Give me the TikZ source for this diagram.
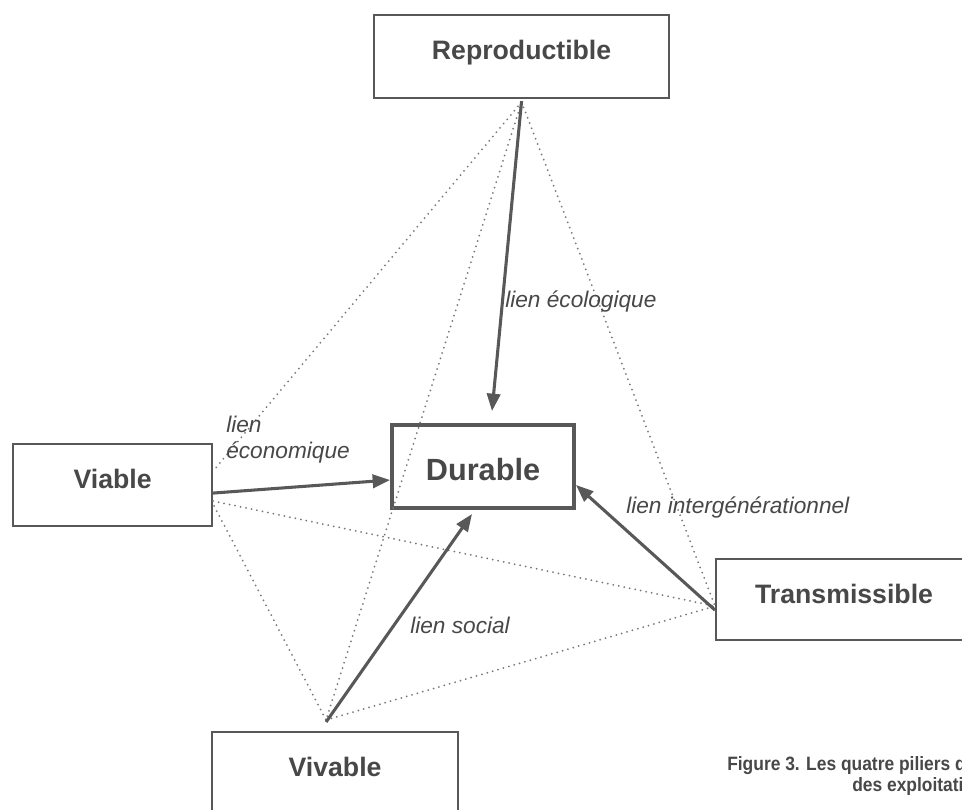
\documentclass[tikz,border=0pt]{standalone}
\usepackage{fontspec}
\setmainfont{Liberation Sans}
\newfontfamily\capfont[FakeStretch=0.9]{Liberation Sans}
\usetikzlibrary{arrows.meta,calc}
\definecolor{ink}{RGB}{72,72,72}
\definecolor{frame}{RGB}{88,88,88}
\definecolor{dotcol}{RGB}{120,120,120}
\begin{document}
\begin{tikzpicture}[x=0.75pt,y=-0.75pt,
  pillar/.style={draw=frame, line width=1.6pt, inner xsep=0pt, inner ysep=0pt,
    text=ink, font=\bfseries\fontsize{20}{24}\selectfont, anchor=north west},
  link/.style={draw=frame, line width=2.3pt, -{Triangle[length=13pt,width=10pt]}},
  dotlink/.style={draw=dotcol, line width=1.5pt, line cap=round, dash pattern=on 0pt off 4.2pt},
  lbl/.style={text=ink, font=\itshape\fontsize{17}{20}\selectfont, anchor=west, inner sep=0pt},
  captxt/.style={text=ink, font=\capfont\bfseries\fontsize{14.5}{16.5}\selectfont, anchor=west, inner sep=0pt},
]
\useasboundingbox (0,0) rectangle (962,809);
\clip (0,0) rectangle (962,809);
\fill[white] (0,0) rectangle (962,809);

% boxes
\node[pillar, minimum width=221.25pt, text height=33pt, text depth=29.25pt] (repro) at (373,14) {Reproductible};
\node[pillar, minimum width=149.25pt, text height=33pt, text depth=28.5pt] (viable) at (12,443) {Viable};
\node[pillar, line width=3pt, minimum width=136.5pt, text height=41.25pt, text depth=21pt,
      font=\bfseries\fontsize{23}{27}\selectfont] (durable) at (390,423) {Durable};
\node[pillar, minimum width=192pt, text height=33.4pt, text depth=27.4pt] (trans) at (715,558) {Transmissible};
\node[pillar, minimum width=184.5pt, text height=33pt, text depth=60pt] (vivable) at (211,731) {Vivable};

% connection points
\coordinate (rP) at ($(repro.south)+(0,3)$);
\coordinate (rA) at ($(repro.south)+(0,2)$);
\coordinate (v1) at ($(viable.east)+(0,-14)$);
\coordinate (v2) at ($(viable.east)+(0,16)$);
\coordinate (v3) at ($(viable.east)+(1,21)$);
\coordinate (vA) at ($(viable.east)+(0,8)$);
\coordinate (viP) at ($(vivable.north)+(-9,-11)$);
\coordinate (viA) at ($(vivable.north)+(-9,-9)$);
\coordinate (tP) at ($(trans.west)+(0,6.5)$);
\coordinate (tA) at ($(trans.west)+(0,10.5)$);
\coordinate (dN) at ($(durable.north)+(9,-12)$);
\coordinate (dW) at ($(durable.west)+(0,13.5)$);
\coordinate (dS) at ($(durable.south)+(-11,4)$);
\coordinate (dE) at ($(durable.east)+(0,18.5)$);

% dotted links
\draw[dotlink] (rP) -- (v1);
\draw[dotlink] (rP) -- (viP);
\draw[dotlink] (rP) -- (tP);
\draw[dotlink] (v2) -- (tP);
\draw[dotlink] (v3) -- (viP);
\draw[dotlink] (viP) -- (tP);

% arrows
\draw[link] (rA) -- (dN);
\draw[link] (vA) -- (dW);
\draw[link] (viA) -- (dS);
\draw[link] (tA) -- (dE);

% labels
\node[lbl] (leco) at (505,302) {lien écologique};
\node[lbl, align=left, font=\itshape\fontsize{17}{19.5}\selectfont] (lecon) at (226,440) {lien\\économique};
\node[lbl] (linter) at (626,508) {lien intergénérationnel};
\node[lbl] (lsoc) at (410,625) {lien social};

% caption (cut by the page edge, as in the reference)
\node[captxt] (cap1) at (727,765) {Figure 3. Les quatre piliers de la durabilité};
\node[captxt] (cap2) at (852,787) {des exploitations agricoles};
\end{tikzpicture}
\end{document}
